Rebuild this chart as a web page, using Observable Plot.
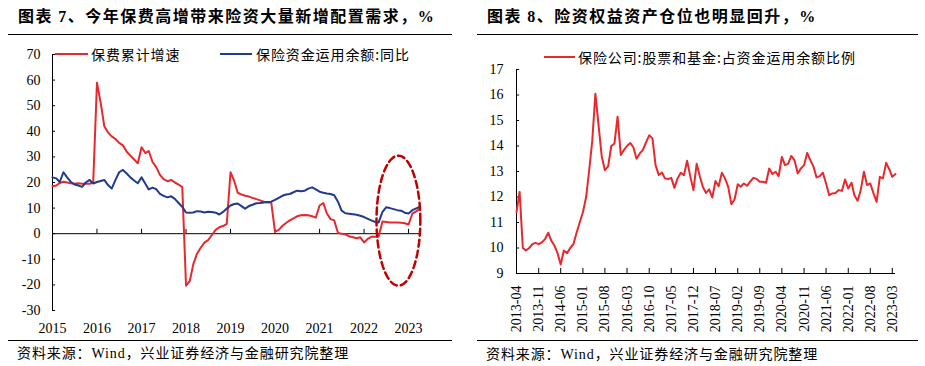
<!DOCTYPE html>
<html><head><meta charset="utf-8">
<script src="https://cdn.jsdelivr.net/npm/d3@7"></script>
<script src="https://cdn.jsdelivr.net/npm/@observablehq/plot@0.6"></script>
<style>
html,body{margin:0;padding:0;background:#fff;}
#root{position:relative;width:925px;height:366px;overflow:hidden;font-family:"Noto Sans CJK SC",sans-serif;color:#000;}
.abs{position:absolute;white-space:nowrap;}
.title{font-size:16px;font-weight:700;line-height:20px;letter-spacing:1.5px;}
.rule{position:absolute;height:1px;background:#000;}
.src{font-size:14px;line-height:18px;letter-spacing:0.9px;}
.leg{font-size:14px;line-height:18px;letter-spacing:0.9px;}
.sw{position:absolute;height:2px;}
.en{font-family:"Liberation Serif",serif;}
.plot{position:absolute;top:36px;}
</style></head><body><div id="root"></div>
<script>
// ---------- Data: chart 7 (monthly, from 2015-01) ----------
const leftStart = "2015-01";
const leftSeriesNames = ["保费累计增速", "保险资金运用余额:同比"];
const premGrowth = [18.5,18.8,19.8,20.3,20,19.7,19.5,19.7,19.5,19.5,19.5,20,
  59,51,42,39.5,38,37,35.5,34.5,32,30.5,29,27.5,
  33.8,31.5,32.3,28,26,23,21.3,20.5,21,20,19.2,18.2,
  -20.3,-18.5,-12,-7.8,-5.5,-3.5,-2.5,-0.5,1.5,2.5,3,3.8,
  24,20.5,16,15.3,14.8,14.5,14,13.5,13,12.5,12.2,12.3,
  0.8,1.5,3,4.2,5.2,6,6.8,7.2,7.3,7.2,6.8,6.3,
  11,12,8,5.7,5.2,0.3,0,-0.3,-1,-1.4,-1.8,-1.4,
  -3.4,-2,-1.2,-1.2,-1.1,4.8,4.6,4.4,4.4,4.4,4.3,4.1,
  3.6,7.8,8.6,9.6];
const fundGrowth = [22,21.6,20.2,24,22,20.2,19.2,18.8,18.3,20,21,19.6,
  20.2,20.6,21,19,17.6,21,24,24.9,23.5,22,20.8,19.7,
  22,19.5,17.3,18,17.4,15.6,14.8,14.2,14.6,13.6,12,10.5,
  8.3,8.2,8.3,8.8,8.7,8.3,8.6,8.5,8.2,7.5,8.5,9.8,
  11,11.6,11.8,10.8,9.8,10.8,11.3,11.9,12,12.2,12.4,12.5,
  13.2,14,14.8,15.3,15.5,16.2,16.8,16.6,16.8,17.6,18.1,17.3,
  16.4,16,15.7,15.5,15,12.5,9,8,7.8,7.6,7.4,7,
  6.5,5.8,5.2,4.6,4.4,8.5,10.3,10,9.6,9.2,9,8.2,
  7.9,9.2,9.8,10.5];
const leftYTicks = [-30,-20,-10,0,10,20,30,40,50,60,70];
const leftXTicks = ["2015","2016","2017","2018","2019","2020","2021","2022","2023"];
// annotation ellipse (data units): center date, center value, half-width in days, half-height in %
const ellipseCenter = ["2022-10-10", 5.1];
const ellipseRadii = [180, 25.4];

// ---------- Data: chart 8 (monthly, from 2013-04) ----------
const rightStart = "2013-04";
const rightSeriesName = "保险公司:股票和基金:占资金运用余额比例";
const equityShare = [11.4,12.2,10.0,9.9,10.0,10.15,10.2,10.15,10.22,10.35,10.6,10.3,
  10.1,9.8,9.35,9.9,9.8,10.0,10.15,10.6,11.0,11.4,12.0,13.0,
  14.2,16.05,14.8,13.6,13.05,13.2,14.0,14.1,15.15,13.65,13.85,14.0,
  14.12,13.95,13.5,13.7,13.85,14.15,14.42,14.3,13.25,12.86,12.96,12.73,
  12.7,12.75,12.36,12.73,12.95,12.86,13.42,12.8,12.27,13.3,12.8,12.4,
  12.16,12.3,11.98,12.63,12.42,12.95,12.73,12.4,11.72,11.9,12.5,12.4,
  12.53,12.44,12.6,12.75,12.71,12.6,12.6,12.56,13.12,12.9,12.99,12.82,
  13.57,13.25,13.31,13.61,13.44,12.92,13.12,13.25,13.73,13.44,13.18,12.77,
  12.82,12.95,12.53,12.07,12.14,12.16,12.27,12.24,12.69,12.33,12.56,12.07,
  11.85,12.27,12.99,12.47,12.53,12.14,11.81,12.79,12.73,13.34,13.08,12.79,
  12.9];
const rightYTicks = [9,10,11,12,13,14,15,16,17];
const rightXTicks = ["2013-04","2013-11","2014-06","2015-01","2015-08","2016-03","2016-10","2017-05","2017-12",
  "2018-07","2019-02","2019-09","2020-04","2020-11","2021-06","2022-01","2022-08","2023-03"];

// ---------- Build ----------
const RED = "#e8282c", BLUE = "#1f3a8f", DARKRED = "#c00000";
const parseM = d3.utcParse("%Y-%m");
const parseY = d3.utcParse("%Y");
const l0 = parseM(leftStart), r0 = parseM(rightStart);
const leftData = premGrowth.map((v, i) => ({date: d3.utcMonth.offset(l0, i), prem: v, fund: fundGrowth[i]}));
const rightData = equityShare.map((v, i) => ({date: d3.utcMonth.offset(r0, i), v}));
const lEnd = leftData[leftData.length - 1].date;
const rEnd = rightData[rightData.length - 1].date;
const lYears = leftXTicks.map(parseY);
const rMonths = rightXTicks.map(parseM);

const ec = d3.utcParse("%Y-%m-%d")(ellipseCenter[0]);
const ellipse = d3.range(0, 73).map(k => {
  const t = k / 72 * 2 * Math.PI;
  return {date: new Date(+ec + Math.cos(t) * ellipseRadii[0] * 864e5), v: ellipseCenter[1] + Math.sin(t) * ellipseRadii[1]};
});

const root = document.getElementById("root");
function add(html){ root.insertAdjacentHTML("beforeend", html); }

// titles & rules
add(`<div class="abs title" style="left:18px;top:5px">图表 <span class="en">7</span>、今年保费高增带来险资大量新增配置需求，<span class="en">%</span></div>`);
add(`<div class="abs title" style="left:487px;top:5px">图表 <span class="en">8</span>、险资权益资产仓位也明显回升，<span class="en">%</span></div>`);
add(`<div class="rule" style="left:8px;width:444px;top:34px"></div>`);
add(`<div class="rule" style="left:477px;width:441px;top:34px"></div>`);

const baseStyle = {fontFamily: "'Liberation Serif', serif", fontSize: "14px", color: "#000", background: "transparent", overflow: "visible"};

const left = Plot.plot({
  width: 462, height: 304,
  marginLeft: 52, marginRight: 43, marginTop: 18, marginBottom: 30,
  style: baseStyle,
  x: {type: "utc", domain: [l0, lEnd], label: null},
  y: {domain: [-30, 70], label: null},
  marks: [
    Plot.axisY({ticks: leftYTicks, tickSize: 0, tickPadding: 12, tickFormat: d => String(d), label: null}),
    Plot.axisX({ticks: lYears, tickSize: 0, tickPadding: 13, tickFormat: d => String(d.getUTCFullYear()), label: null}),
    Plot.ruleX([l0], {stroke: "#000", strokeWidth: 1}),
    Plot.ruleY(leftYTicks, {x1: l0, x2: d3.utcDay.offset(l0, 25), stroke: "#000"}),
    Plot.ruleY([0], {stroke: "#000", strokeWidth: 1}),
    Plot.ruleX(lYears, {y1: 0, y2: 1.7, stroke: "#000"}),
    Plot.line(leftData, {x: "date", y: "prem", stroke: RED, strokeWidth: 2}),
    Plot.line(leftData, {x: "date", y: "fund", stroke: BLUE, strokeWidth: 2}),
    Plot.line(ellipse, {x: "date", y: "v", stroke: DARKRED, strokeWidth: 2.5, strokeDasharray: "7,4"})
  ]
});
left.classList.add("plot");
left.style.left = "0px";
root.appendChild(left);

const right = Plot.plot({
  width: 463, height: 304,
  marginLeft: 54, marginRight: 30, marginTop: 33, marginBottom: 67,
  style: baseStyle,
  x: {type: "utc", domain: [r0, rEnd], label: null},
  y: {domain: [9, 17], label: null},
  marks: [
    Plot.axisY({ticks: rightYTicks, tickSize: 0, tickPadding: 13, tickFormat: d => String(d), label: null}),
    Plot.axisX({ticks: rMonths, tickSize: 0, tickPadding: 12, tickRotate: -90, tickFormat: d3.utcFormat("%Y-%m"), label: null}),
    Plot.ruleX([r0], {stroke: "#000"}),
    Plot.ruleY([9], {stroke: "#000"}),
    Plot.ruleY(rightYTicks, {x1: r0, x2: d3.utcDay.offset(r0, 30), stroke: "#000"}),
    Plot.ruleX(rMonths, {y1: 9, y2: 9.2, stroke: "#000"}),
    Plot.line(rightData, {x: "date", y: "v", stroke: RED, strokeWidth: 2})
  ]
});
right.classList.add("plot");
right.style.left = "462px";
root.appendChild(right);

// legends
add(`<div class="sw" style="left:55px;width:33px;top:53px;background:${RED}"></div>`);
add(`<div class="abs leg" style="left:91px;top:45px">${leftSeriesNames[0]}</div>`);
add(`<div class="sw" style="left:220px;width:32px;top:53px;background:${BLUE}"></div>`);
add(`<div class="abs leg" style="left:256px;top:45px">${leftSeriesNames[1]}</div>`);
add(`<div class="sw" style="left:544px;width:31px;top:56px;background:${RED}"></div>`);
add(`<div class="abs leg" style="left:578px;top:48px">${rightSeriesName}</div>`);

// bottom rules & sources
add(`<div class="rule" style="left:8px;width:444px;top:340px"></div>`);
add(`<div class="rule" style="left:477px;width:441px;top:340px"></div>`);
add(`<div class="abs src" style="left:17px;top:343px">资料来源：<span class="en">Wind</span>，兴业证券经济与金融研究院整理</div>`);
add(`<div class="abs src" style="left:486px;top:344px">资料来源：<span class="en">Wind</span>，兴业证券经济与金融研究院整理</div>`);
</script>
</body></html>
